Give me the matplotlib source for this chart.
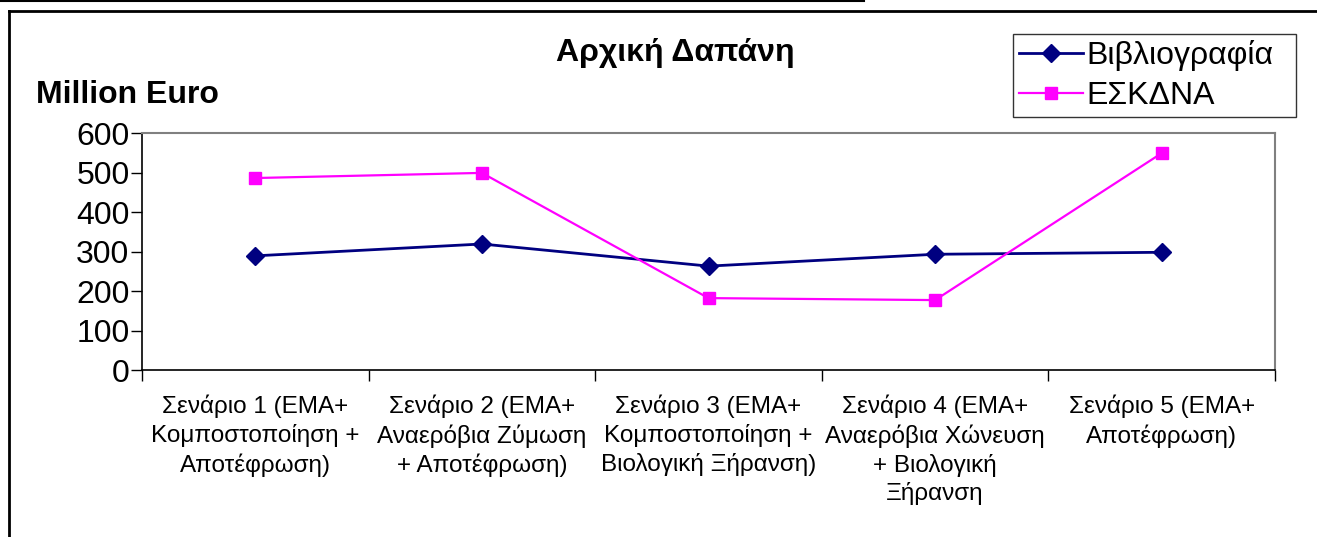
import matplotlib
matplotlib.use("Agg")
import matplotlib.pyplot as plt
from matplotlib.lines import Line2D

plt.rcParams['font.family'] = ['Liberation Sans', 'DejaVu Sans']

scenarios = ["Σενάριο 1 (ΕΜΑ+\nΚομποστοποίηση +\nΑποτέφρωση)",
             "Σενάριο 2 (ΕΜΑ+\nΑναερόβια Ζύμωση\n+ Αποτέφρωση)",
             "Σενάριο 3 (ΕΜΑ+\nΚομποστοποίηση +\nΒιολογική Ξήρανση)",
             "Σενάριο 4 (ΕΜΑ+\nΑναερόβια Χώνευση\n+ Βιολογική\nΞήρανση",
             "Σενάριο 5 (ΕΜΑ+\nΑποτέφρωση)"]
bibliography = [289, 319, 263, 293, 298]
eskdna = [486, 499, 182, 177, 549]
yticks = [0, 100, 200, 300, 400, 500, 600]

W, H = 1317, 537
fig = plt.figure(figsize=(W / 100, H / 100), dpi=100)
ax = fig.add_axes([142 / W, 1 - 370 / H, (1275 - 142) / W, (370 - 133) / H])

x = list(range(len(scenarios)))
ax.plot(x, bibliography, color='#000080', linewidth=2, marker='D',
        markersize=9, label='Βιβλιογραφία')
ax.plot(x, eskdna, color='#FF00FF', linewidth=1.6, marker='s',
        markersize=9, label='ΕΣΚΔΝΑ')

ax.set_xlim(-0.5, len(scenarios) - 0.5)
ax.set_ylim(0, 600)
ax.set_yticks(yticks)
ax.tick_params(axis='y', labelsize=23, length=8, width=1, direction='out', pad=1)

# category boundaries as major ticks, labels on minor ticks
ax.set_xticks([i - 0.5 for i in range(len(scenarios) + 1)])
ax.set_xticklabels([])
ax.tick_params(axis='x', which='major', length=8, width=1, direction='out')
ax.set_xticks(x, minor=True)
ax.set_xticklabels(scenarios, minor=True, fontsize=17.5, linespacing=1.32)
ax.tick_params(axis='x', which='minor', length=0, pad=18)

for s in ['top', 'right']:
    ax.spines[s].set_color('#808080')
    ax.spines[s].set_linewidth(1.5)
for s in ['left', 'bottom']:
    ax.spines[s].set_color('black')
    ax.spines[s].set_linewidth(1.2)

fig.text(675 / W, 1 - 61 / H, 'Αρχική Δαπάνη', fontsize=23, fontweight='bold',
         ha='center', va='baseline')
fig.text(36 / W, 1 - 103 / H, 'Million Euro', fontsize=23, fontweight='bold',
         ha='left', va='baseline')

leg = ax.legend(loc='upper left',
                bbox_to_anchor=(1013 / W, 1 - 118 / H, 283 / W, 84 / H),
                bbox_transform=fig.transFigure, mode='expand', fontsize=23,
                frameon=True, fancybox=False, borderaxespad=0, borderpad=0.2,
                labelspacing=0.3, handlelength=2.0, handletextpad=0.1)
leg.get_frame().set_edgecolor('black')
leg.get_frame().set_linewidth(1)

# outer chart frame
fig.add_artist(Line2D([9 / W, 9 / W], [0, 1 - 11 / H], color='black',
                      linewidth=2, transform=fig.transFigure))
fig.add_artist(Line2D([9 / W, 1], [1 - 11 / H, 1 - 11 / H], color='black',
                      linewidth=2, transform=fig.transFigure))
fig.add_artist(Line2D([0, 864 / W], [1 - 1 / H, 1 - 1 / H], color='black',
                      linewidth=1.5, transform=fig.transFigure))

fig.savefig('out.png', dpi=100)
